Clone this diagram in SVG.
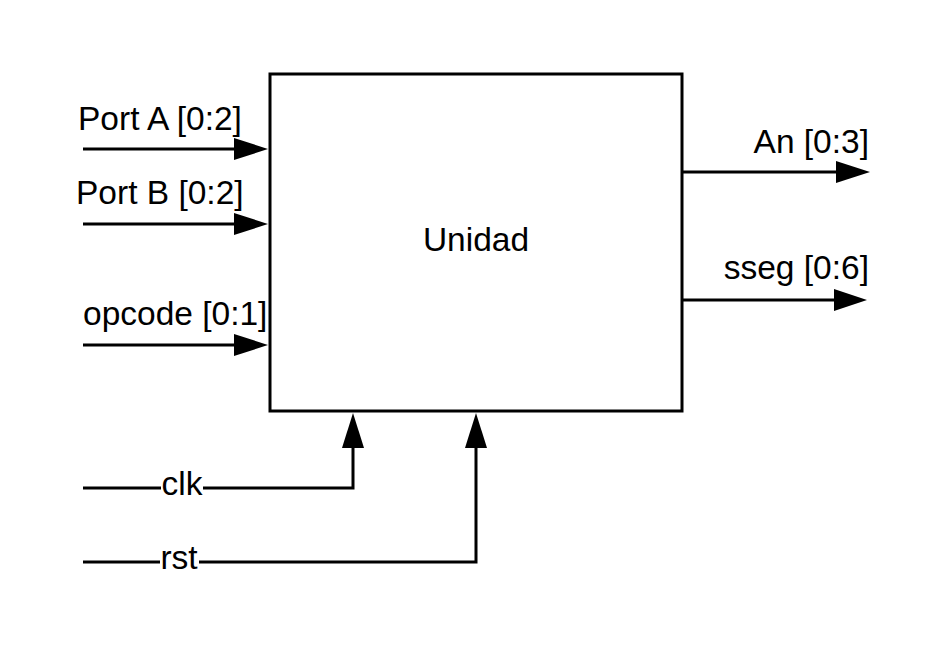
<svg xmlns="http://www.w3.org/2000/svg" width="945" height="658" viewBox="0 0 945 658">
<style>
.t{font-family:"Liberation Sans",Arial,sans-serif;font-size:33.5px;fill:#000}
.w{stroke:#000;stroke-width:3;fill:none}
.h{fill:#000;stroke:none}
</style>
<rect width="945" height="658" fill="#fff"/>
<g id="unidad">
<rect x="270" y="74" width="412" height="337" fill="#fff" stroke="#000" stroke-width="3"/>
<text class="t" x="476" y="251" text-anchor="middle">Unidad</text>
</g>
<g id="connectors">
<path class="w" d="M83 149H236"/><polygon class="h" points="234,138 268,149 234,160"/>
<path class="w" d="M83 224H236"/><polygon class="h" points="234,213 268,224 234,235"/>
<path class="w" d="M83 345H236"/><polygon class="h" points="234,334 268,345 234,356"/>
<path class="w" d="M683 172H838"/><polygon class="h" points="836,161 870,172 836,183"/>
<path class="w" d="M683 300H836"/><polygon class="h" points="834,289 867,300 834,311"/>
<path class="w" d="M83 488H353V446"/><polygon class="h" points="342,448 353,413 364,448"/>
<path class="w" d="M83 562H476V446"/><polygon class="h" points="465,448 476,413 487,448"/>
</g>
<g id="labels">
<text class="t" x="78" y="130">Port A [0:2]</text>
<text class="t" x="76" y="204">Port B [0:2]</text>
<text class="t" x="83" y="325">opcode [0:1]</text>
<text class="t" x="869" y="153" text-anchor="end">An [0:3]</text>
<text class="t" x="869" y="279" text-anchor="end">sseg [0:6]</text>
<rect x="161" y="474" width="42" height="28" fill="#fff"/>
<text class="t" x="182" y="495" text-anchor="middle">clk</text>
<rect x="160" y="548" width="39" height="28" fill="#fff"/>
<text class="t" x="179" y="569" text-anchor="middle">rst</text>
</g>
</svg>
